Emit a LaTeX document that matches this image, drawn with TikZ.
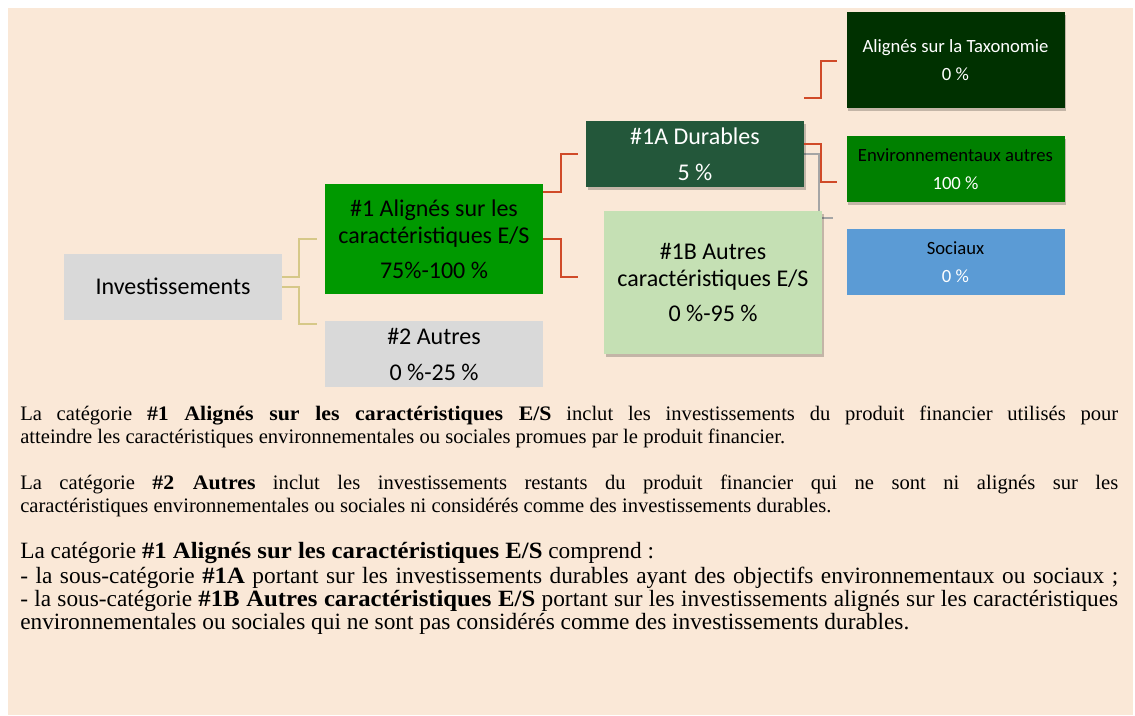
\documentclass[tikz,border=0pt]{standalone}
\usepackage{fontspec}
\setmainfont{Liberation Serif}[BoldFeatures={FakeStretch=1.06}]
\newfontfamily\boxfont{Carlito}
\usetikzlibrary{positioning}
\usetikzlibrary{calc}
\usetikzlibrary{shadows}

\definecolor{bgPeach}{HTML}{FAE8D7}
\definecolor{boxGray}{HTML}{D9D9D9}
\definecolor{alignGreen}{HTML}{009900}
\definecolor{durGreen}{HTML}{23573A}
\definecolor{otherGreen}{HTML}{C5E0B4}
\definecolor{taxoGreen}{HTML}{003100}
\definecolor{envGreen}{HTML}{008000}
\definecolor{socBlue}{HTML}{5B9BD5}
\definecolor{linkRed}{HTML}{D04A28}
\definecolor{linkTan}{HTML}{D6C888}
\definecolor{linkGray}{HTML}{A5A5A5}

\tikzset{
	catBox/.style={inner sep=0pt, align=center, minimum width=163.5pt,
		minimum height=49.5pt, font=\boxfont\fontsize{18}{20.25}\selectfont},
	subBox/.style={inner sep=0pt, align=center, minimum width=163.5pt,
		minimum height=49.5pt, font=\boxfont\fontsize{14}{21}\selectfont},
	shadowed/.style={drop shadow={shadow xshift=1.2pt, shadow yshift=-2.2pt,
		opacity=0.22, fill=black}},
	link/.style={line width=1.5pt},
	note/.style={inner sep=0pt, text width=823.5pt, align=justify,
		font=\fontsize{15.45}{17.25}\selectfont,
		execute at begin node=\strut, execute at end node=\strut}
}

\begin{document}
\begin{tikzpicture}[x=0.75pt, y=-0.75pt]

		\useasboundingbox (0,0) rectangle (1135,715);
		\fill[bgPeach] (8,8) rectangle (1133,715);

		% boxes
		\node[catBox, fill=boxGray] (invest) at (173,286.5) {Investissements};
		\node[catBox, fill=alignGreen, minimum height=82.5pt] (cat1) at (434,239)
			{\#1 Alignés sur les\\caractéristiques E/S\\[6pt]75\%-100 \%};
		\node[catBox, fill=boxGray] (cat2) at (434,354) {\#2 Autres\\[6.75pt]0 \%-25 \%};

		% connectors first, boxes on top
		\draw[link, linkTan] ($(invest.east)+(0,-9.5)$) -- ++(17,0) |- ($(cat1.west)+(-8,0)$);
		\draw[link, linkTan] (invest.east) -- ++(17,0) |- ($(cat2.north west)+(-8,3)$);

		\coordinate (c1a) at (695,154);
		\coordinate (c1b) at (713,282.5);
		\draw[link, linkRed] ($(cat1.north east)+(0,8)$) -- ++(18,0) |- ($(c1a)+(-117,0)$);
		\draw[link, linkRed] (cat1.east) -- ++(18,0) |- ($(c1b)+(-135,-5.5)$);
		\draw[link, linkGray] ($(c1a)+(109,0)$) -- ++(15,0) |- (833,218);

		\node[catBox, fill=durGreen, text=white, shadowed] (cat1a) at (c1a)
			{\#1A Durables\\[6.75pt]5 \%};
		\node[catBox, fill=otherGreen, minimum height=107.25pt, shadowed] (cat1b) at (c1b)
			{\#1B Autres\\caractéristiques E/S\\[6pt]0 \%-95 \%};

		\node[subBox, fill=taxoGreen, text=white, minimum height=72pt, shadowed] (taxo)
			at (955.5,60) {Alignés sur la Taxonomie\\0 \%};
		\node[subBox, fill=envGreen, text=white, shadowed] (envir) at (955.5,169)
			{\textcolor{black}{Environnementaux autres}\\100 \%};
		\node[subBox, fill=socBlue, text=white] (social) at (955.5,262)
			{\textcolor{black}{Sociaux}\\0 \%};

		\draw[link, linkRed] ($(cat1a.north east)+(0,-23)$) -- ++(17,0) |- ($(taxo.west)+(-9,1)$);
		\draw[link, linkRed] ($(cat1a.east)+(0,-10)$) -- ++(17,0) |- ($(envir.west)+(-9,13)$);

		% notes
		\node[note, anchor=north west] (para1) at (20,404)
			{La catégorie \textbf{\#1 Alignés sur les caractéristiques E/S} inclut les
			investissements du produit financier utilisés pour\linebreak atteindre les
			caractéristiques environnementales ou sociales promues par le produit financier.};
		\node[note, below=17.25pt of para1] (para2)
			{La catégorie \textbf{\#2 Autres} inclut les investissements restants du produit
			financier qui ne sont ni alignés sur les\linebreak caractéristiques environnementales
			ou sociales ni considérés comme des investissements durables.};
		\node[note, below=16.5pt of para2, font=\fontsize{17.5}{17.4}\selectfont] (para3)
			{La catégorie \textbf{\#1 Alignés sur les caractéristiques E/S} comprend~:\\
			- la sous-catégorie \textbf{\#1A} portant sur les investissements durables ayant
			des objectifs environnementaux ou sociaux~;\linebreak
			- la sous-catégorie \textbf{\#1B Autres caractéristiques E/S} portant sur les
			investissements alignés sur les caractéristiques\linebreak environnementales ou
			sociales qui ne sont pas considérés comme des investissements durables.};

	\end{tikzpicture}
\end{document}
